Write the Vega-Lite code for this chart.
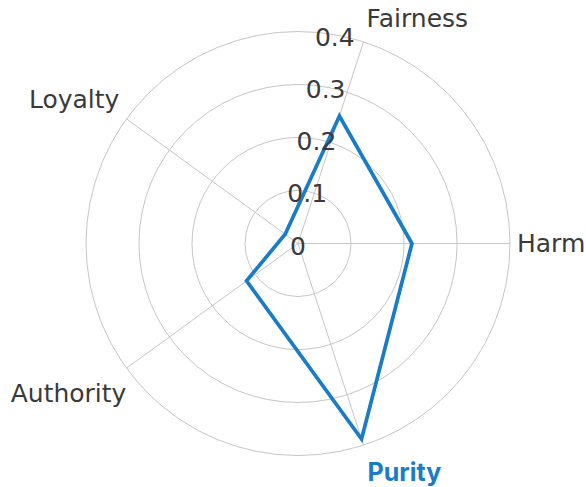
{
  "$schema": "https://vega.github.io/schema/vega-lite/v6.json",
  "width": 586,
  "height": 487,
  "padding": 0,
  "autosize": {"type": "none"},
  "background": "white",
  "config": {"view": {"stroke": null}, "font": "DejaVu Sans"},
  "datasets": {
    "axes": [
      {"axis": "Harm", "i": 0, "value": 0.215},
      {"axis": "Fairness", "i": 1, "value": 0.253},
      {"axis": "Loyalty", "i": 2, "value": 0.03},
      {"axis": "Authority", "i": 3, "value": 0.12},
      {"axis": "Purity", "i": 4, "value": 0.388}
    ],
    "ticks": [
      {"v": 0, "label": "0"},
      {"v": 0.1, "label": "0.1"},
      {"v": 0.2, "label": "0.2"},
      {"v": 0.3, "label": "0.3"},
      {"v": 0.4, "label": "0.4"}
    ]
  },
  "layer": [
    {
      "data": {"name": "ticks"},
      "transform": [{"filter": "datum.v > 0"}],
      "mark": {"type": "arc", "theta": 0, "theta2": 6.2832, "filled": false, "stroke": "#c6c6c6", "strokeWidth": 1},
      "encoding": {
        "x": {"datum": 0, "type": "quantitative", "scale": {"domain": [-0.562264, 0.543396], "nice": false, "zero": false}, "axis": null},
        "y": {"datum": 0, "type": "quantitative", "scale": {"domain": [-0.459434, 0.459434], "nice": false, "zero": false}, "axis": null},
        "radius": {"field": "v", "type": "quantitative", "stack": null, "scale": {"type": "linear", "domain": [0, 0.4], "range": [0, 212], "zero": true}, "legend": null}
      }
    },
    {
      "data": {"name": "axes"},
      "transform": [
        {"calculate": "datum.i * 2 * PI / 5", "as": "a"},
        {"calculate": "0.4 * cos(datum.a)", "as": "sx"},
        {"calculate": "0.4 * sin(datum.a)", "as": "sy"}
      ],
      "mark": {"type": "rule", "stroke": "#c6c6c6", "strokeWidth": 1},
      "encoding": {
        "x": {"field": "sx", "type": "quantitative", "scale": {"domain": [-0.562264, 0.543396], "nice": false, "zero": false}, "axis": null},
        "y": {"field": "sy", "type": "quantitative", "scale": {"domain": [-0.459434, 0.459434], "nice": false, "zero": false}, "axis": null},
        "x2": {"datum": 0},
        "y2": {"datum": 0}
      }
    },
    {
      "data": {"name": "axes"},
      "transform": [
        {"calculate": "datum.i * 2 * PI / 5", "as": "a"},
        {"calculate": "datum.value * cos(datum.a)", "as": "px"},
        {"calculate": "datum.value * sin(datum.a)", "as": "py"}
      ],
      "mark": {"type": "line", "interpolate": "linear-closed", "stroke": "#1a7bc6", "strokeWidth": 3.7, "strokeJoin": "miter"},
      "encoding": {
        "x": {"field": "px", "type": "quantitative", "scale": {"domain": [-0.562264, 0.543396], "nice": false, "zero": false}, "axis": null},
        "y": {"field": "py", "type": "quantitative", "scale": {"domain": [-0.459434, 0.459434], "nice": false, "zero": false}, "axis": null},
        "order": {"field": "i", "type": "quantitative"}
      }
    },
    {
      "data": {"name": "ticks"},
      "transform": [
        {"calculate": "datum.v * cos(80 * PI / 180)", "as": "tx"},
        {"calculate": "datum.v * sin(80 * PI / 180)", "as": "ty"}
      ],
      "mark": {"type": "text", "align": "center", "baseline": "middle", "dy": 3, "fontSize": 25, "color": "#3a3a3a"},
      "encoding": {
        "x": {"field": "tx", "type": "quantitative", "scale": {"domain": [-0.562264, 0.543396], "nice": false, "zero": false}, "axis": null},
        "y": {"field": "ty", "type": "quantitative", "scale": {"domain": [-0.459434, 0.459434], "nice": false, "zero": false}, "axis": null},
        "text": {"field": "label"}
      }
    },
    {
      "data": {"name": "axes"},
      "transform": [
        {"filter": "datum.axis === 'Harm'"},
        {"calculate": "datum.i * 2 * PI / 5", "as": "a"},
        {"calculate": "0.41887 * cos(datum.a)", "as": "lx"},
        {"calculate": "0.41887 * sin(datum.a)", "as": "ly"}
      ],
      "mark": {"type": "text", "align": "left", "baseline": "middle", "dx": -3, "fontSize": 25, "color": "#3a3a3a"},
      "encoding": {
        "x": {"field": "lx", "type": "quantitative", "scale": {"domain": [-0.562264, 0.543396], "nice": false, "zero": false}, "axis": null},
        "y": {"field": "ly", "type": "quantitative", "scale": {"domain": [-0.459434, 0.459434], "nice": false, "zero": false}, "axis": null},
        "text": {"field": "axis"}
      }
    },
    {
      "data": {"name": "axes"},
      "transform": [
        {"filter": "datum.axis === 'Fairness'"},
        {"calculate": "datum.i * 2 * PI / 5", "as": "a"},
        {"calculate": "0.41887 * cos(datum.a)", "as": "lx"},
        {"calculate": "0.41887 * sin(datum.a)", "as": "ly"}
      ],
      "mark": {"type": "text", "align": "left", "baseline": "bottom", "fontSize": 25, "color": "#3a3a3a"},
      "encoding": {
        "x": {"field": "lx", "type": "quantitative", "scale": {"domain": [-0.562264, 0.543396], "nice": false, "zero": false}, "axis": null},
        "y": {"field": "ly", "type": "quantitative", "scale": {"domain": [-0.459434, 0.459434], "nice": false, "zero": false}, "axis": null},
        "text": {"field": "axis"}
      }
    },
    {
      "data": {"name": "axes"},
      "transform": [
        {"filter": "datum.axis === 'Loyalty'"},
        {"calculate": "datum.i * 2 * PI / 5", "as": "a"},
        {"calculate": "0.41887 * cos(datum.a)", "as": "lx"},
        {"calculate": "0.41887 * sin(datum.a)", "as": "ly"}
      ],
      "mark": {"type": "text", "align": "right", "baseline": "bottom", "dx": 1, "fontSize": 25, "color": "#3a3a3a"},
      "encoding": {
        "x": {"field": "lx", "type": "quantitative", "scale": {"domain": [-0.562264, 0.543396], "nice": false, "zero": false}, "axis": null},
        "y": {"field": "ly", "type": "quantitative", "scale": {"domain": [-0.459434, 0.459434], "nice": false, "zero": false}, "axis": null},
        "text": {"field": "axis"}
      }
    },
    {
      "data": {"name": "axes"},
      "transform": [
        {"filter": "datum.axis === 'Authority'"},
        {"calculate": "datum.i * 2 * PI / 5", "as": "a"},
        {"calculate": "0.41887 * cos(datum.a)", "as": "lx"},
        {"calculate": "0.41887 * sin(datum.a)", "as": "ly"}
      ],
      "mark": {"type": "text", "align": "right", "baseline": "top", "dx": 8, "dy": 8, "fontSize": 25, "color": "#3a3a3a"},
      "encoding": {
        "x": {"field": "lx", "type": "quantitative", "scale": {"domain": [-0.562264, 0.543396], "nice": false, "zero": false}, "axis": null},
        "y": {"field": "ly", "type": "quantitative", "scale": {"domain": [-0.459434, 0.459434], "nice": false, "zero": false}, "axis": null},
        "text": {"field": "axis"}
      }
    },
    {
      "data": {"name": "axes"},
      "transform": [
        {"filter": "datum.axis === 'Purity'"},
        {"calculate": "datum.i * 2 * PI / 5", "as": "a"},
        {"calculate": "0.41887 * cos(datum.a)", "as": "lx"},
        {"calculate": "0.41887 * sin(datum.a)", "as": "ly"}
      ],
      "mark": {"type": "text", "align": "left", "baseline": "top", "dx": 1, "dy": 6, "fontSize": 25, "font": "Inter", "fontWeight": "bold", "color": "#1a7bc6"},
      "encoding": {
        "x": {"field": "lx", "type": "quantitative", "scale": {"domain": [-0.562264, 0.543396], "nice": false, "zero": false}, "axis": null},
        "y": {"field": "ly", "type": "quantitative", "scale": {"domain": [-0.459434, 0.459434], "nice": false, "zero": false}, "axis": null},
        "text": {"field": "axis"}
      }
    }
  ]
}
